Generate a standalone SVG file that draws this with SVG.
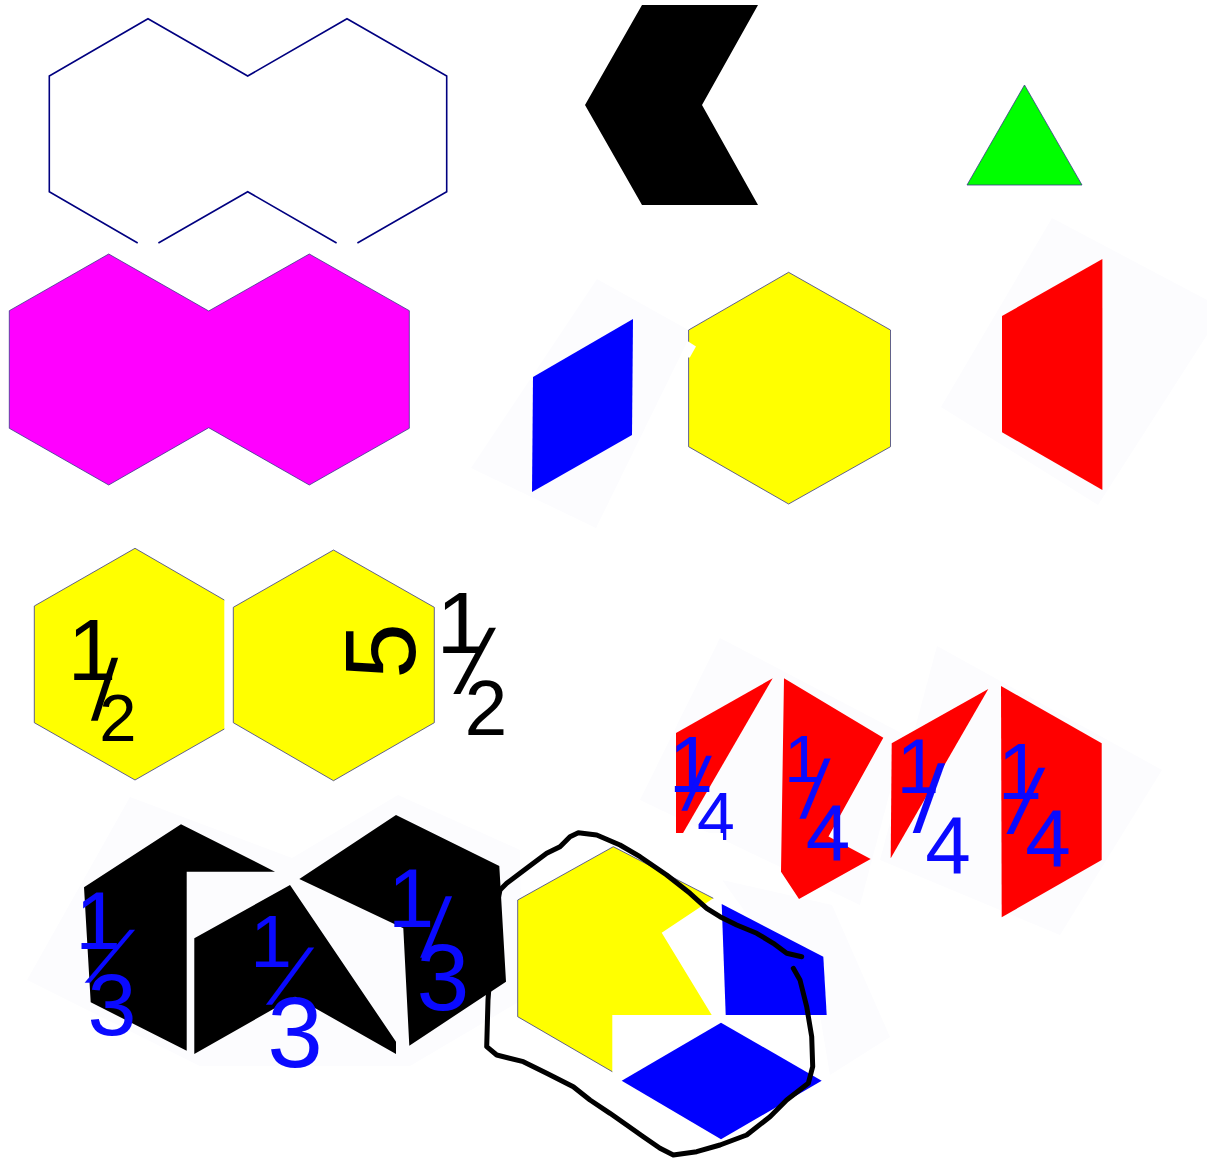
<svg xmlns="http://www.w3.org/2000/svg" width="1207" height="1160" viewBox="0 0 1207 1160">
<style>
.edge{stroke:#3a3a8c;stroke-width:0.8;stroke-linejoin:miter}
.faint{fill:#fcfcfe;stroke:none}
.k{font-family:"Liberation Sans",Arial,sans-serif;fill:#000;text-anchor:middle}
.b{font-family:"Liberation Sans",Arial,sans-serif;fill:#0a0aff;text-anchor:middle}
</style>
<rect width="1207" height="1160" fill="#fff"/>
<g id="backgrounds">
<polygon class="faint" points="597,279 692,332 596,528 471,468"/>
<polygon class="faint" points="1052,218 1207,300 1207,335 1098,505 941,407"/>
<polygon class="faint" points="720,638 905,735 860,905 640,800"/>
<polygon class="faint" points="937,646 1162,770 1060,935 880,860"/>
<polygon class="faint" points="130,797 292,858 398,795 520,850 522,1000 410,1066 200,1066 27,980"/>
<polygon class="faint" points="722,880 832,905 890,1037 830,1075 820,1015"/>
</g>
<g id="outline-double-hex">
<path d="M137.7,243 L49.3,191.7 L49.3,76 L148,18.7 L247.7,76 L347,18.7 L446.7,76 L446.7,191.7 L357.4,243 M158.4,243 L247.7,191.7 L336.6,243" fill="none" stroke="#000080" stroke-width="1.6"/>
</g>
<g id="black-chevron">
<polygon points="642,5 758,5 702,105 758,205 642,205 585,105" fill="#000"/>
</g>
<g id="green-triangle">
<polygon class="edge" points="1024.5,85 1082,185 967,185" fill="#00ff00"/>
</g>
<g id="magenta-double-hex">
<polygon class="edge" points="108.7,254 208.7,311 309.3,254 409.3,310.7 409.3,428.3 309.3,485 208.7,427.7 108.7,485 9.3,428.3 9.3,310.7" fill="#ff00ff"/>
</g>
<g id="blue-rhombus-1">
<polygon points="533,377 633,319 632,435 532,492" fill="#0000ff"/>
</g>
<g id="yellow-hex-1">
<polygon class="edge" points="788.6,272.3 890.5,330 890.5,446.7 788.6,504 688.6,446.7 688.6,330" fill="#ffff00"/>
<polygon points="687.5,341 696,346.5 689.8,357.5 687.5,357.5" fill="#fff"/>
</g>
<g id="red-trapezoid-1">
<polygon points="1002,316 1102.4,259 1102.4,490 1002,432.3" fill="#ff0000"/>
</g>
<g id="yellow-hex-half-a">
<polygon points="135,548.3 224.3,600 224.3,729 135,780 34.3,722.7 34.3,606" fill="#ffff00"/>
<polyline class="edge" points="224.3,600 135,548.3 34.3,606 34.3,722.7 135,780 224.3,729" fill="none"/>
</g>
<g id="yellow-hex-half-b">
<polygon class="edge" points="333.5,550 434.3,607.3 434.3,722.7 333.5,780.7 233.3,722.7 233.3,607.3" fill="#ffff00"/>
</g>
<g id="red-quarter-1">
<polygon points="676,733 772.7,678.3 679,840 676,840" fill="#ff0000"/>
</g>
<g id="red-quarter-2">
<polygon points="784,678.3 883.3,737.7 828.5,836.5 870.7,859 799,899 781,871.7" fill="#ff0000"/>
</g>
<g id="red-quarter-3">
<polygon points="891.7,743.3 988.3,689 890.7,858.3" fill="#ff0000"/>
</g>
<g id="red-quarter-4">
<polygon points="1001,686 1101.7,743.3 1101.7,860 1001.7,917.3" fill="#ff0000"/>
</g>
<g id="black-third-1">
<polygon points="84,887.3 181,824.3 275,871.7 186.7,871.7 186.7,1050.7 90.7,1002.3" fill="#000"/>
</g>
<g id="black-third-2">
<polygon points="194.3,938.3 290,885 396,1041.7 396,1054 295,996.7 194.3,1054" fill="#000"/>
</g>
<g id="black-third-3">
<polygon points="299.3,879 396,815 499.3,866 506,981.7 409.3,1045.7 403.3,928.3" fill="#000"/>
</g>
<g id="labels-half">
<text class="k" font-size="88" x="92" y="680">1</text>
<text class="k" font-size="86" transform="translate(103,720) skewX(-3)">/</text>
<text class="k" font-size="67" x="118" y="741">2</text>
<text class="k" font-size="100" transform="translate(379,651) rotate(-90)" x="0" y="36">5</text>
<text class="k" font-size="88" x="461" y="653">1</text>
<text class="k" font-size="90" transform="translate(466,693) skewX(-15)">/</text>
<text class="k" font-size="77" x="486" y="735">2</text>
</g>
<g id="labels-quarter">
<text class="b" font-size="80" x="691" y="792">1</text>
<text class="b" font-size="75" transform="translate(692,810) skewX(-10)">/</text>
<text class="b" font-size="68" transform="translate(716,840)">4</text>
<text class="b" font-size="67" x="803" y="782">1</text>
<text class="b" font-size="82" transform="translate(811,818) skewX(-8)">/</text>
<text class="b" font-size="80" x="828" y="860">4</text>
<text class="b" font-size="77" x="918" y="793">1</text>
<text class="b" font-size="95" transform="translate(926,832) skewX(-5)">/</text>
<text class="b" font-size="82" x="948" y="874">4</text>
<text class="b" font-size="80" x="1020" y="799">1</text>
<text class="b" font-size="90" transform="translate(1019,833) skewX(-12)">/</text>
<text class="b" font-size="82" x="1048" y="867">4</text>
</g>
<g id="labels-third">
<text class="b" font-size="82" x="98" y="949">1</text>
<text class="b" font-size="72" transform="translate(95,982) skewX(-30)">/</text>
<text class="b" font-size="88" x="112" y="1035">3</text>
<text class="b" font-size="75" x="271" y="967">1</text>
<text class="b" font-size="78" transform="translate(277,1004) skewX(-25)">/</text>
<text class="b" font-size="100" x="295" y="1067">3</text>
<text class="b" font-size="83" x="411" y="927">1</text>
<text class="b" font-size="84" transform="translate(432,957) skewX(-8)">/</text>
<text class="b" font-size="95" x="443" y="1010">3</text>
</g>
<g id="mixed-group">
<rect x="600" y="833" width="123" height="70" fill="#fff"/>
<polygon points="517.7,900 613.3,846.7 713.3,898.3 700,907.3 661.7,932.7 711.7,1015 612.3,1015 612.3,1071.7 517.7,1016.7" fill="#ffff00"/>
<polyline class="edge" points="612.3,1071.7 517.7,1016.7 517.7,900 613.3,846.7 713.3,898.3" fill="none"/>
<polygon points="721.7,904 823.3,956.7 826.7,1015 725.7,1015" fill="#0000ff"/>
<polygon points="621.7,1080.7 721,1022.7 821.7,1080.7 721,1139.3" fill="#0000ff"/>
</g>
<g id="connectors">
<path d="M801.7,956.7 L786.7,953.3 L773.3,943.3 L756.7,933.3 L736.7,925 L720,916.7 L706.7,908.3 L690,893.3 L666.7,875 L640,856.7 L620,845 L596.7,835 L578.3,832.7 L570,836.7 L560,846.7 L546.7,853.3 L533.3,863.3 L520,873.3 L506.7,883.3 L500,890 L494,920 L491,960 L488,1000 L486.7,1046.7 L496.7,1055 L523.3,1061.7 L546.7,1073.3 L573.3,1086.7 L590,1100 L610,1113.3 L626.7,1125 L643.3,1136.7 L660,1148.3 L673.3,1155 L696.7,1151.7 L720,1145 L746.7,1135 L770,1116.7 L786.7,1100 L808.3,1083.3 L812.7,1066.7 L811.7,1036.7 L806.7,1006.7 L800,980 L793.3,968.3" fill="none" stroke="#000" stroke-width="5" stroke-linejoin="round" stroke-linecap="round"/>
</g>
</svg>
